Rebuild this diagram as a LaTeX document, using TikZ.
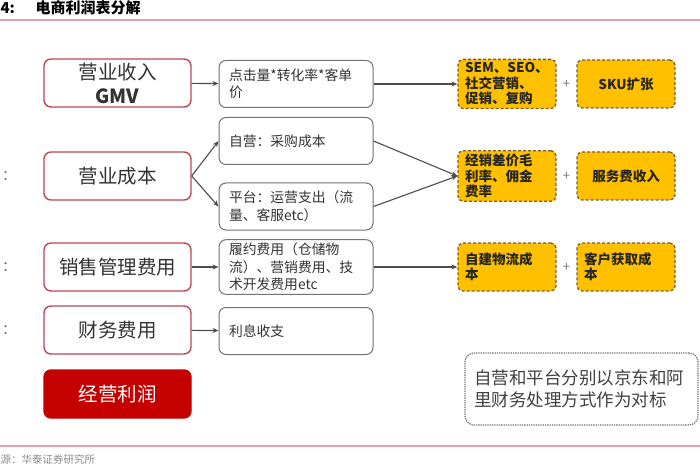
\documentclass[tikz,border=0pt]{standalone}
\usepackage{fontspec}
\setmainfont{Noto Sans CJK SC}
\usepackage{tikz}
\usetikzlibrary{arrows.meta,positioning,calc}
\definecolor{boxred}{RGB}{190,70,85}
\definecolor{darkred}{RGB}{196,0,0}
\definecolor{gold}{RGB}{255,192,0}
\definecolor{goldedge}{RGB}{125,95,40}
\definecolor{rulepink}{RGB}{225,160,170}

\begin{document}
\begin{tikzpicture}[x=1pt, y={(0pt,-1pt)},
  arr/.style = {-{Stealth[length=6pt,width=5pt]}, line width=1.1pt, black!70},
  itembox/.style = {draw=boxred, line width=1.4pt, rounded corners=7pt, fill=white,
                    minimum width=147pt, minimum height=48pt, align=center,
                    font=\fontsize{19.5}{24}\selectfont, text=black!80},
  detailbox/.style = {draw=black!55, line width=1pt, rounded corners=7pt, fill=white,
                      text width=134pt, inner xsep=10pt, minimum height=47pt, align=left,
                      font=\fontsize{13.8}{17.5}\selectfont, text=black!80},
  driverbox/.style = {draw=goldedge, densely dashed, line width=1.3pt, rounded corners=5pt,
                      fill=gold, text width=84pt, inner xsep=7pt, minimum height=48pt,
                      align=left, font=\bfseries\fontsize{13.5}{15.5}\selectfont, text=black!85},
  notebox/.style = {draw=black!55, densely dotted, line width=1.3pt, rounded corners=9pt,
                    text width=215pt, inner xsep=9pt, minimum height=72pt, align=left,
                    font=\fontsize{17.5}{22}\selectfont, text=black!75},
  plus/.style = {font=\fontsize{13}{13}\selectfont, text=black!55},
]
\useasboundingbox (0,0) rectangle (700,470);

% Title and rules
\node[anchor=west, font=\bfseries\fontsize{15}{15}\selectfont] (fignum) at (-3,8) {4:};
\node[anchor=west, font=\bfseries\fontsize{15}{15}\selectfont] (title) at (32,8) {电商利润表分解};
\draw[rulepink, line width=1.8pt] (0,20) -- (700,20);
\draw[rulepink, line width=1.2pt] (0,446) -- (700,446);
\node[anchor=west, font=\fontsize{10.5}{10.5}\selectfont, text=black!45] (source) at (-3,459) {源：华泰证券研究所};

% Left column
\node[itembox] (rev) at (117.5,83) {营业收入\\\textbf{GMV}};
\node[itembox] (cost) at (117.5,176) {营业成本};
\node[itembox] (sga) at (117.5,267) {销售管理费用};
\node[itembox] (fin) at (117.5,330) {财务费用};
\node[itembox, draw=darkred, fill=darkred, text=white] (profit) at (117.5,394) {经营利润};

% Cut-off side labels
\node[font=\fontsize{14}{14}\selectfont, text=black!60] (c1) at (9,176) {：};
\node[font=\fontsize{14}{14}\selectfont, text=black!60] (c2) at (9,267) {：};
\node[font=\fontsize{14}{14}\selectfont, text=black!60] (c3) at (9,330) {：};

% Middle column
\node[detailbox] (click) at (296,84) {点击量*转化率*客单\\价};
\node[detailbox] (self) at (296,141) {自营：采购成本};
\node[detailbox] (plat) at (296,206.5) {平台：运营支出（流\\量、客服etc）};
\node[detailbox] (fulfil) at (296,267) {履约费用（仓储物\\流）、营销费用、技\\术开发费用etc};
\node[detailbox] (intr) at (296,331) {利息收支};

% Right column
\node[driverbox] (mkt) at (507,84) {SEM、SEO、\\社交营销、\\促销、复购};
\node[driverbox, align=center] (sku) at (626,84) {SKU扩张};
\node[driverbox] (margin) at (507,176) {经销差价毛\\利率、佣金\\费率};
\node[driverbox, align=center] (svc) at (626,176) {服务费收入};
\node[driverbox] (logi) at (507,267) {自建物流成\\本};
\node[driverbox] (acq) at (626,267) {客户获取成\\本};
\node[plus] (p1) at (566.5,84) {+};
\node[plus] (p2) at (566.5,176) {+};
\node[plus] (p3) at (566.5,267) {+};

% Note
\node[notebox] (note) at (581.5,389) {自营和平台分别以京东和阿\\里财务处理方式作为对标};

% Arrows
\draw[arr] (rev) -- (click);
\draw[arr] (cost.east) -- (self.west);
\draw[arr] (cost.east) -- (plat.west);
\draw[arr] (sga) -- (fulfil);
\draw[arr] (fin) -- (intr);
\draw[arr] (click) -- (mkt);
\draw[arr] (self.east) -- (margin.west);
\draw[arr] (plat.east) -- (margin.west);
\draw[arr] (fulfil) -- (logi);
\end{tikzpicture}
\end{document}
